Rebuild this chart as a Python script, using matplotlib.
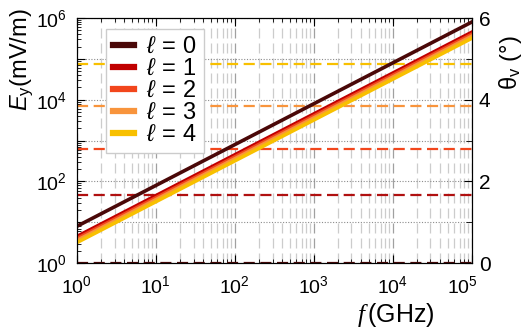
import numpy as np
import matplotlib
matplotlib.use("Agg")
import matplotlib.pyplot as plt
import matplotlib.ticker as mticker
import matplotlib.transforms as mtransforms

plt.rcParams['font.family'] = ['Liberation Sans', 'DejaVu Sans']
plt.rcParams['mathtext.fontset'] = 'custom'
plt.rcParams['mathtext.rm'] = 'Liberation Sans'
plt.rcParams['mathtext.it'] = 'Liberation Sans:italic'
plt.rcParams['mathtext.cal'] = 'Liberation Serif:italic'

# field amplitude E_y = coef * f for each mode l, and the angle theta_v per mode
modes = [0, 1, 2, 3, 4]
coef = [8.0, 4.5, 4.0, 3.6, 3.2]
theta_v = [0.0, 1.67, 2.80, 3.84, 4.87]
colors = ['#4a0808', '#c00000', '#f2461c', '#f8943c', '#f8c000']
dash_colors = ['#4a0808', '#b01010', '#f2461c', '#f8943c', '#f8c000']
freq = np.array([1e0, 1e5])

fig = plt.figure(figsize=(5.23, 3.29), dpi=100)
ax = fig.add_axes([0.147, 0.200, 0.755, 0.745])
ax2 = ax.twinx()
ax2.set_ylim(0, 6)

# theta_v lines go on the main axes (above the grid), with y in ax2 units
trans = mtransforms.blended_transform_factory(ax.transData, ax2.transData)
for th, col in zip(theta_v, dash_colors):
    ax.plot(freq, [th, th], color=col, lw=1.6, ls=(0, (5, 2.5)), transform=trans, zorder=2)

for l, c, col in zip(modes, coef, colors):
    ax.loglog(freq, c * freq, color=col, lw=2.6, label=r'$\ell\,=\,%d$' % l, zorder=3)

ax.set_xlim(1e0, 1e5)
ax.set_ylim(1e0, 1e6)
ax2.set_yticks([0, 2, 4, 6])
ax2.set_yticks([1, 3, 5], minor=True)

ax.yaxis.set_major_locator(mticker.LogLocator(base=10, numticks=10))
ax.yaxis.set_major_formatter(mticker.FuncFormatter(
    lambda v, p: r'$10^{%d}$' % round(np.log10(v)) if round(np.log10(v)) % 2 == 0 else ''))
ax.xaxis.set_major_formatter(mticker.FuncFormatter(
    lambda v, p: r'$10^{%d}$' % round(np.log10(v))))

# grid: dotted rows at decades, dashed columns at every tick
ax.grid(True, which='major', axis='y', color='#8c8c8c', ls=(0, (1, 1.5)), lw=0.8)
ax.grid(True, which='major', axis='x', color='#a0a0a0', ls=(0, (8, 4)), lw=0.9)
ax.grid(True, which='minor', axis='x', color='#cccccc', ls=(0, (8, 4)), lw=0.9)
ax.set_axisbelow(True)

ax.tick_params(which='both', direction='in', top=True, labelsize=14)
ax.tick_params(axis='x', pad=9)
ax.tick_params(axis='y', pad=7)
ax.tick_params(which='major', length=6)
ax.tick_params(which='minor', length=3)
ax2.tick_params(which='both', direction='in', labelsize=15, pad=5)
ax2.tick_params(which='major', length=6)
ax2.tick_params(which='minor', length=4)

# last x label sits a little left of its tick
for lab in ax.get_xticklabels():
    if lab.get_position()[0] == 1e5:
        lab.set_transform(lab.get_transform() +
                          mtransforms.ScaledTranslation(-9 / 100, 0, fig.dpi_scale_trans))

ax.set_xlabel(r'$\mathcal{f}\,$(GHz)', fontsize=18)
ax.xaxis.set_label_coords(0.808, -0.155)
ax.set_ylabel(r'$E_{\mathrm{y}}$(mV/m)', fontsize=17)
ax.yaxis.set_label_coords(-0.103, 0.83)
ax2.set_ylabel('θ$_{\\mathrm{v}}$ (°)', fontsize=17)
ax2.yaxis.set_label_coords(1.063, 0.82)

leg = ax.legend(loc='upper left', bbox_to_anchor=(0.074, 0.955), fontsize=17,
                handlelength=0.9, handletextpad=0.5, labelspacing=0.0,
                borderpad=0.3, borderaxespad=0, fancybox=False, framealpha=1,
                edgecolor='#cccccc')
for h in leg.get_lines():
    h.set_linewidth(4.5)
leg.set_zorder(5)

fig.savefig('out.png', dpi=100)
